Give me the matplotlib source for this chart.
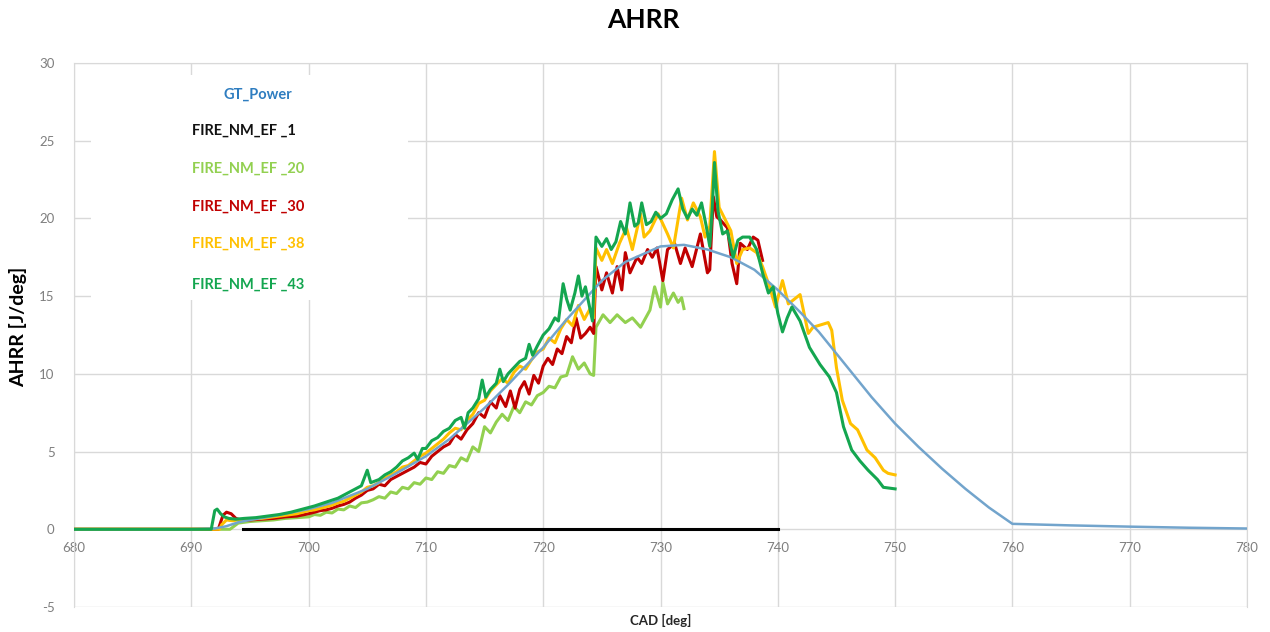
import matplotlib.pyplot as plt
from matplotlib.patches import Rectangle

plt.rcParams['font.family'] = ['Lato', 'DejaVu Sans']
plt.rcParams['axes.unicode_minus'] = False

# GT_Power (smooth reference curve)
x_gt = [680, 690, 692, 693, 694, 695, 697, 700, 702, 705, 707, 710, 712, 715, 717, 720, 722,
        725, 727, 730, 732, 734, 736, 738, 740, 742, 743.5, 745, 746.5, 748, 750, 752, 754,
        756, 758, 760, 765, 770, 775, 780]
y_gt = [0, 0, 0.05, 0.2, 0.45, 0.6, 0.85, 1.3, 1.7, 2.6, 3.4, 4.7, 5.8, 7.8, 9.3, 11.7, 13.5,
        16.0, 17.2, 18.2, 18.3, 18.0, 17.5, 16.7, 15.4, 13.9, 12.7, 11.3, 9.9, 8.5, 6.8, 5.3,
        3.9, 2.6, 1.4, 0.35, 0.25, 0.17, 0.1, 0.05]

# FIRE_NM_EF _1
x_ef1 = [694.4, 740]
y_ef1 = [0, 0]

# FIRE_NM_EF _20
x_ef20 = [680, 693.3, 694, 695, 696, 697, 698, 699, 700, 700.5, 701, 701.5, 702, 702.5, 703,
          703.5, 704, 704.5, 705, 705.5, 706, 706.5, 707, 707.5, 708, 708.5, 709, 709.5, 710,
          710.5, 711, 711.5, 712, 712.5, 713, 713.5, 714, 714.5, 715, 715.5, 716, 716.5, 717,
          717.5, 718, 718.5, 719, 719.5, 720, 720.5, 721, 721.5, 722, 722.5, 723, 723.5, 724,
          724.3, 724.5, 725.1, 725.7, 726.3, 727.0, 727.6, 728.3, 729.1, 729.5, 730.0, 730.2,
          730.6, 731.1, 731.5, 731.8, 732.0]
y_ef20 = [0, 0, 0.4, 0.5, 0.55, 0.6, 0.7, 0.75, 0.8, 0.95, 0.9, 1.1, 1.05, 1.3, 1.25,
          1.5, 1.4, 1.7, 1.75, 1.9, 2.1, 2.0, 2.4, 2.3, 2.7, 2.6, 3.0, 2.9, 3.3,
          3.2, 3.7, 3.6, 4.1, 4.0, 4.6, 4.4, 5.3, 5.0, 6.6, 6.2, 6.9, 7.4, 7.0,
          7.9, 7.5, 8.2, 8.0, 8.6, 8.8, 9.2, 9.1, 9.8, 9.9, 11.1, 10.3, 10.7, 10.0,
          9.9, 13.0, 13.8, 13.3, 13.8, 13.3, 13.6, 13.0, 14.1, 15.6, 14.3, 15.9,
          14.5, 15.2, 14.6, 14.9, 14.2]

# FIRE_NM_EF _30
x_ef30 = [680, 692.3, 692.7, 693.0, 693.4, 693.8, 694.2, 695, 696, 697, 698, 699, 700, 700.5,
          701, 701.5, 702, 702.5, 703, 703.5, 704, 704.5, 705, 705.5, 706, 706.5, 707, 707.5,
          708, 708.5, 709, 709.5, 710, 710.5, 711, 711.5, 712, 712.5, 713, 713.5, 714, 714.5,
          715, 715.5, 716, 716.3, 716.8, 717.2, 717.6, 718, 718.4, 718.8, 719.2, 719.6, 720,
          720.4, 720.8, 721.2, 721.6, 722, 722.4, 722.8, 723.2, 723.6, 724, 724.3, 724.5,
          725.0, 725.4, 725.9, 726.3, 726.7, 727.0, 727.4, 728.0, 728.4, 728.9, 729.3, 729.7,
          730.2, 730.6, 731.2, 731.7, 732.1, 732.7, 733.4, 734.0, 734.2, 734.5, 734.8, 735.1,
          735.7, 736.1, 736.5, 736.8, 737.4, 737.9, 738.3, 738.7]
y_ef30 = [0, 0, 0.9, 1.1, 1.0, 0.7, 0.6, 0.6, 0.65, 0.7, 0.8, 0.85, 1.0, 1.1,
          1.2, 1.25, 1.35, 1.5, 1.6, 1.75, 2.0, 2.2, 2.5, 2.6, 2.9, 2.8, 3.2, 3.4,
          3.6, 3.8, 4.0, 4.3, 4.2, 4.7, 5.0, 5.3, 5.5, 6.1, 5.8, 6.4, 6.8, 7.5,
          7.2, 8.2, 7.8, 8.6, 7.9, 8.9, 7.8, 9.0, 9.5, 8.7, 9.9, 9.4, 10.5,
          11.0, 10.6, 11.6, 11.3, 12.4, 12.0, 13.6, 12.3, 12.6, 13.0, 12.6, 16.9,
          15.4, 16.5, 15.2, 16.9, 15.4, 17.8, 16.5, 17.5, 17.1, 18.0, 17.5, 18.1,
          16.0, 18.0, 18.4, 17.1, 18.1, 16.9, 19.0, 16.5, 16.7, 21.4, 20.1, 19.9,
          19.4, 17.1, 15.8, 18.4, 18.0, 18.8, 18.6, 17.3]

# FIRE_NM_EF _38
x_ef38 = [680, 692.4, 692.6, 693, 693.5, 694, 695, 696, 697, 698, 699, 700, 700.5, 701, 701.5,
          702, 702.5, 703, 703.5, 704, 704.5, 705, 705.5, 706, 706.5, 707, 707.5, 708, 708.5,
          709, 709.5, 710, 710.5, 711, 711.5, 712, 712.5, 713, 713.5, 714, 714.5, 715, 715.5,
          716, 716.5, 717, 717.5, 718, 718.5, 719, 719.5, 720, 720.5, 721, 721.5, 722, 722.5,
          723, 723.5, 724, 724.3, 724.5, 725.0, 725.4, 725.9, 726.5, 727.1, 727.6, 728.3,
          728.6, 729.1, 729.8, 730.6, 731.1, 731.8, 732.3, 732.8, 733.4, 733.8, 734.2, 734.6,
          735.0, 735.4, 736.0, 736.5, 737.0, 737.6, 738.2, 738.7, 739.3, 739.8, 740.4, 740.9,
          741.9, 742.6, 743.0, 744.3, 744.6, 745.0, 745.5, 746.2, 746.8, 747.6, 748.3, 749.0,
          749.4, 750.0]
y_ef38 = [0, 0, 0.3, 0.6, 0.55, 0.6, 0.65, 0.7, 0.8, 0.9, 1.0, 1.2, 1.25, 1.35, 1.45,
          1.55, 1.7, 1.8, 2.0, 2.2, 2.4, 2.7, 2.8, 3.0, 3.3, 3.5, 3.7, 4.0, 4.1,
          4.4, 4.7, 4.9, 5.2, 5.5, 5.8, 6.2, 6.5, 6.4, 7.0, 7.4, 8.1, 8.3, 8.9,
          9.3, 9.7, 9.4, 10.1, 10.5, 10.3, 10.9, 11.4, 11.6, 12.3, 12.0, 12.9, 13.5, 13.1,
          14.4, 13.5, 14.2, 13.6, 18.1, 17.3, 18.0, 17.1, 18.4, 19.4, 18.0, 20.3,
          18.8, 19.2, 20.3, 19.0, 18.1, 21.3, 19.9, 21.0, 20.1, 18.8, 19.5, 24.3,
          20.7, 20.1, 19.2, 17.1, 18.0, 18.1, 17.8, 16.9, 15.6, 14.3, 16.0, 14.5,
          15.1, 12.6, 13.0, 13.3, 12.8, 10.4, 8.3, 6.8, 6.4, 5.1, 4.6, 3.8,
          3.6, 3.5]

# FIRE_NM_EF _43
x_ef43 = [680, 691.7, 692.0, 692.2, 692.5, 692.8, 693.2, 693.8, 694.5, 695.5, 696.5, 697.5,
          698.5, 699.5, 700.5, 701.5, 702.5, 703.5, 704.5, 705.0, 705.3, 706, 706.5, 707,
          707.5, 708, 708.5, 709, 709.3, 709.7, 710, 710.5, 711, 711.5, 712, 712.5, 713,
          713.3, 713.6, 714, 714.5, 714.8, 715.1, 715.5, 716, 716.3, 716.6, 717, 717.5, 718,
          718.5, 718.8, 719.1, 719.5, 720, 720.5, 721.0, 721.3, 721.7, 722.0, 722.3, 722.7,
          723.0, 723.3, 723.6, 723.9, 724.2, 724.5, 725.0, 725.4, 725.8, 726.2, 726.6, 727.0,
          727.4, 727.8, 728.1, 728.4, 728.8, 729.2, 729.6, 730.0, 730.5, 731.0, 731.5, 731.9,
          732.3, 732.7, 733.1, 733.5, 733.9, 734.2, 734.4, 734.6, 734.9, 735.3, 735.7, 736.2,
          736.6, 737.0, 737.6, 738.2, 738.7, 739.2, 739.6, 740.0, 740.4, 740.8, 741.2, 741.9,
          742.7, 743.6, 744.4, 745.0, 745.6, 746.3, 747.0, 747.7, 748.5, 749.0, 750.0]
y_ef43 = [0, 0, 1.2, 1.3, 1.0, 0.8, 0.7, 0.65, 0.7, 0.75, 0.85, 0.95,
          1.1, 1.3, 1.5, 1.75, 2.0, 2.4, 2.8, 3.8, 3.0, 3.2, 3.5, 3.7,
          4.0, 4.4, 4.6, 4.9, 4.5, 5.2, 5.2, 5.7, 5.9, 6.3, 6.5, 7.0, 7.2,
          6.5, 7.5, 7.8, 8.4, 9.6, 8.5, 9.0, 9.4, 10.3, 9.5, 10.0, 10.4, 10.8,
          11.0, 11.9, 11.2, 11.8, 12.5, 12.9, 13.6, 13.4, 15.8, 14.8, 14.1, 15.2,
          16.3, 15.0, 15.6, 14.5, 13.4, 18.8, 18.2, 18.7, 18.0, 18.5, 19.8, 19.0,
          21.0, 19.5, 19.7, 21.0, 19.6, 19.8, 20.4, 20.0, 20.3, 21.2, 21.9, 20.6,
          20.0, 20.6, 20.2, 21.0, 19.5, 18.2, 20.5, 23.6, 20.5, 19.0, 19.2, 17.5,
          18.6, 18.8, 18.8, 18.0, 16.5, 15.2, 15.6, 13.9, 12.7, 13.6, 14.3, 13.4,
          11.7, 10.6, 9.8, 8.8, 6.6, 5.1, 4.4, 3.8, 3.2, 2.7, 2.6]

legend_names = ['GT_Power', 'FIRE_NM_EF _1', 'FIRE_NM_EF _20', 'FIRE_NM_EF _30',
                'FIRE_NM_EF _38', 'FIRE_NM_EF _43']
legend_colors = ['#2e7dc0', '#111111', '#92d050', '#c00000', '#ffc000', '#14a650']
x_ticks = list(range(680, 781, 10))
y_ticks = list(range(-5, 31, 5))

fig = plt.figure(figsize=(12.7, 6.32), dpi=100)
ax = fig.add_axes([74 / 1270, 1 - 607 / 632, (1247 - 74) / 1270, (607 - 63) / 632])

ax.plot(x_ef1, y_ef1, color='#000000', lw=2.2, zorder=3)
ax.plot(x_ef20, y_ef20, color='#92d050', lw=2.2, zorder=3)
ax.plot(x_ef30, y_ef30, color='#c00000', lw=2.2, zorder=3)
ax.plot(x_ef38, y_ef38, color='#ffc000', lw=2.2, zorder=3)
ax.plot(x_gt, y_gt, color='#72a4cc', lw=1.8, zorder=3)
ax.plot(x_ef43, y_ef43, color='#14a650', lw=2.2, zorder=3)

ax.set_xlim(680, 780)
ax.set_ylim(-5, 30)
ax.set_xticks(x_ticks)
ax.set_yticks(y_ticks)
ax.grid(True, color='#d9d9d9', lw=1.0, zorder=0)
ax.set_axisbelow(True)
for s in ['top', 'right', 'left']:
    ax.spines[s].set_color('#d9d9d9')
ax.spines['bottom'].set_position(('data', 0))
ax.spines['bottom'].set_visible(False)
ax.tick_params(length=0, labelsize=9.5, labelcolor='#7f7f7f')
ax.tick_params(axis='x', pad=9)
ax.tick_params(axis='y', pad=14)

# white legend panel with coloured names
ax.add_patch(Rectangle((91 / 1270, 1 - 300 / 632), (408 - 91) / 1270, (300 - 75) / 632,
                       transform=fig.transFigure, facecolor='white', edgecolor='none',
                       zorder=2.5))
leg_y = [95, 131, 169, 207, 244, 285]
for i, name in enumerate(legend_names):
    if i == 0:
        fig.text(258 / 1270, 1 - leg_y[i] / 632, name, color=legend_colors[i],
                 fontsize=10.5, fontweight='bold', ha='center', va='center')
    else:
        fig.text(192 / 1270, 1 - leg_y[i] / 632, name, color=legend_colors[i],
                 fontsize=10.5, fontweight='bold', ha='left', va='center')

fig.text(643 / 1270, 1 - 20 / 632, 'AHRR', fontsize=19, fontweight='bold', ha='center',
         va='center', color='#000000')
fig.text(18 / 1270, 1 - 327 / 632, 'AHRR [J/deg]', fontsize=14, fontweight='bold',
         rotation=90, ha='center', va='center', color='#000000')
fig.text(661 / 1270, 1 - 620 / 632, 'CAD [deg]', fontsize=9.5, fontweight='bold',
         ha='center', va='center', color='#262626')

plt.savefig('out.png', dpi=100)
